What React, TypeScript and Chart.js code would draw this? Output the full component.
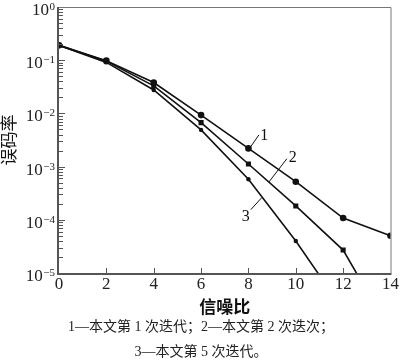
import React, { useEffect, useRef } from 'react';
import { Chart, registerables } from 'chart.js';

Chart.register(...registerables);

// SNR (dB) and bit error rate for each iteration count
const snr1 = [0, 2, 4, 6, 8, 10, 12, 14];
const ber1 = [0.19, 0.098, 0.038, 0.0093, 0.0022, 0.00052, 0.000108, 0.00005];

const snr2 = [0, 2, 4, 6, 8, 10, 12, 13];
const ber2 = [0.19, 0.096, 0.033, 0.0067, 0.00112, 0.000182, 0.000027, 0.0000046];

const snr5 = [0, 2, 4, 6, 8, 10, 11.5];
const ber5 = [0.19, 0.091, 0.0276, 0.0049, 0.00058, 0.00004, 0.0000043];

const xTickValues = [0, 2, 4, 6, 8, 10, 12, 14];
const yDecades = [0, -1, -2, -3, -4, -5];

// curve labels with leader lines (data coordinates)
const curveNames = ['1', '2', '3'];
const leaderStart = [[8.06, 2.24e-3], [8.86, 5.1e-4], [8.56, 2.6e-4]];
const leaderEnd = [[8.44, 3.93e-3], [9.62, 1.4e-3], [8.1, 1.55e-4]];
const nameAt = [[8.5, 3.76e-3], [9.7, 1.45e-3], [8.06, 1.12e-4]];
const nameAlign: CanvasTextAlign[] = ['left', 'left', 'right'];

const captionLine1 = '1—本文第 1 次迭代；2—本文第 2 次迭次；';
const captionLine2 = '3—本文第 5 次迭代。';

const SERIF = '"Liberation Serif", "DejaVu Serif", serif';
const CJK = '"Noto Sans CJK SC", sans-serif';

const overlay = {
  id: 'overlay',
  afterDatasetsDraw(chart: any) {
    const ctx = chart.ctx as CanvasRenderingContext2D;
    const { left, right, top, bottom } = chart.chartArea;
    const xs = chart.scales.x;
    const ys = chart.scales.y;
    ctx.save();
    // frame
    ctx.strokeStyle = '#777';
    ctx.lineWidth = 1;
    ctx.beginPath();
    ctx.moveTo(left, top + 0.5);
    ctx.lineTo(right + 0.5, top + 0.5);
    ctx.lineTo(right + 0.5, bottom);
    ctx.stroke();
    ctx.strokeStyle = '#555';
    ctx.lineWidth = 2;
    ctx.beginPath();
    ctx.moveTo(left - 1, top);
    ctx.lineTo(left - 1, bottom + 1);
    ctx.lineTo(right + 1, bottom + 1);
    ctx.stroke();

    // x ticks (inward)
    ctx.lineWidth = 1;
    ctx.strokeStyle = '#555';
    for (const v of xTickValues) {
      if (v === 0 || v === 14) continue;
      const px = Math.round(xs.getPixelForValue(v)) + 0.5;
      ctx.beginPath();
      ctx.moveTo(px, bottom);
      ctx.lineTo(px, bottom - 5);
      ctx.stroke();
    }
    // y ticks (inward), major + minor
    for (const e of yDecades) {
      if (e === 0) continue;
      for (let m = 1; m <= 9; m++) {
        const v = m * Math.pow(10, e);
        const py = Math.round(ys.getPixelForValue(v)) + 0.5;
        const len = m === 1 ? 6 : 4;
        ctx.beginPath();
        ctx.moveTo(left, py);
        ctx.lineTo(left + len, py);
        ctx.stroke();
      }
    }

    // y tick labels with superscript exponent
    ctx.fillStyle = '#222';
    ctx.textBaseline = 'alphabetic';
    for (const e of yDecades) {
      const py = ys.getPixelForValue(Math.pow(10, e));
      const exp = e === 0 ? '0' : '−' + String(-e);
      ctx.font = `11px ${SERIF}`;
      const ew = ctx.measureText(exp).width;
      const rightX = 55;
      ctx.textAlign = 'right';
      ctx.fillText(exp, rightX, py + 3);
      ctx.font = `17px ${SERIF}`;
      ctx.fillText('10', rightX - ew - 0.5, py + 8);
    }

    // leader lines and curve names
    ctx.strokeStyle = '#111';
    ctx.lineWidth = 1;
    ctx.font = `16px ${SERIF}`;
    ctx.textBaseline = 'middle';
    ctx.fillStyle = '#111';
    curveNames.forEach((name, i) => {
      ctx.beginPath();
      ctx.moveTo(xs.getPixelForValue(leaderStart[i][0]), ys.getPixelForValue(leaderStart[i][1]));
      ctx.lineTo(xs.getPixelForValue(leaderEnd[i][0]), ys.getPixelForValue(leaderEnd[i][1]));
      ctx.stroke();
      ctx.textAlign = nameAlign[i];
      ctx.fillText(name, xs.getPixelForValue(nameAt[i][0]), ys.getPixelForValue(nameAt[i][1]));
    });
    ctx.restore();
  },
};

const hideBelow = (ctx: any, r: number) => {
  const raw = ctx.raw;
  return raw && raw.y < 1e-5 ? 0 : r;
};

export default function App() {
  const ref = useRef<HTMLCanvasElement | null>(null);
  useEffect(() => {
    document.body.style.margin = '0';
    const toPts = (xs: number[], ys: number[]) => xs.map((x, i) => ({ x, y: ys[i] }));
    const common = {
      showLine: true,
      borderColor: '#111',
      backgroundColor: '#111',
      pointBackgroundColor: '#111',
      pointBorderColor: '#111',
      borderWidth: 1.6,
      pointBorderWidth: 0,
    };
    const chart = new Chart(ref.current as HTMLCanvasElement, {
      type: 'scatter',
      data: {
        datasets: [
          { ...common, label: '1', data: toPts(snr1, ber1), pointStyle: 'circle', pointRadius: (c: any) => hideBelow(c, 3.3) },
          { ...common, label: '2', data: toPts(snr2, ber2), pointStyle: 'rect', pointRadius: (c: any) => hideBelow(c, 3.6) },
          { ...common, label: '3', data: toPts(snr5, ber5), pointStyle: 'circle', pointRadius: (c: any) => hideBelow(c, 2.2) },
        ] as any,
      },
      options: {
        animation: false,
        responsive: false,
        events: [],
        layout: { padding: { left: 0, right: 9, top: 7, bottom: 48 } },
        plugins: { legend: { display: false }, tooltip: { enabled: false } },
        scales: {
          x: {
            type: 'linear',
            min: 0,
            max: 14,
            afterBuildTicks: (s: any) => {
              s.ticks = xTickValues.map((v) => ({ value: v }));
            },
            ticks: {
              font: { family: SERIF, size: 17 },
              color: '#222',
              padding: 1,
              maxRotation: 0,
              autoSkip: false,
            },
            grid: { display: false, drawTicks: false },
            border: { display: false },
            title: {
              display: true,
              text: '信噪比',
              color: '#111',
              padding: 0,
              font: { family: CJK, size: 17, weight: 'bold', lineHeight: 1 },
            },
            afterFit: (s: any) => {
              s.height = 42;
            },
          },
          y: {
            type: 'logarithmic',
            min: 1e-5,
            max: 1,
            ticks: { display: false },
            grid: { display: false, drawTicks: false },
            border: { display: false },
            title: {
              display: true,
              text: '误码率',
              color: '#111',
              padding: 0,
              font: { family: CJK, size: 17, lineHeight: 1 },
            },
            afterFit: (s: any) => {
              s.width = 59;
            },
          },
        },
      } as any,
      plugins: [overlay],
    });
    return () => chart.destroy();
  }, []);

  const capStyle: React.CSSProperties = {
    position: 'absolute',
    left: 0,
    width: 402,
    textAlign: 'center',
    fontFamily: `${SERIF.split(',').slice(0, 2).join(',')}, ${CJK}`,
    fontSize: 14,
    lineHeight: '16px',
    color: '#222',
    whiteSpace: 'nowrap',
  };

  return (
    <div style={{ position: 'relative', width: 400, height: 363, background: '#fff', overflow: 'hidden' }}>
      <canvas ref={ref} width={400} height={363} style={{ display: 'block' }} />
      <div style={{ ...capStyle, top: 319 }}>{captionLine1}</div>
      <div style={{ ...capStyle, top: 344 }}>{captionLine2}</div>
    </div>
  );
}
